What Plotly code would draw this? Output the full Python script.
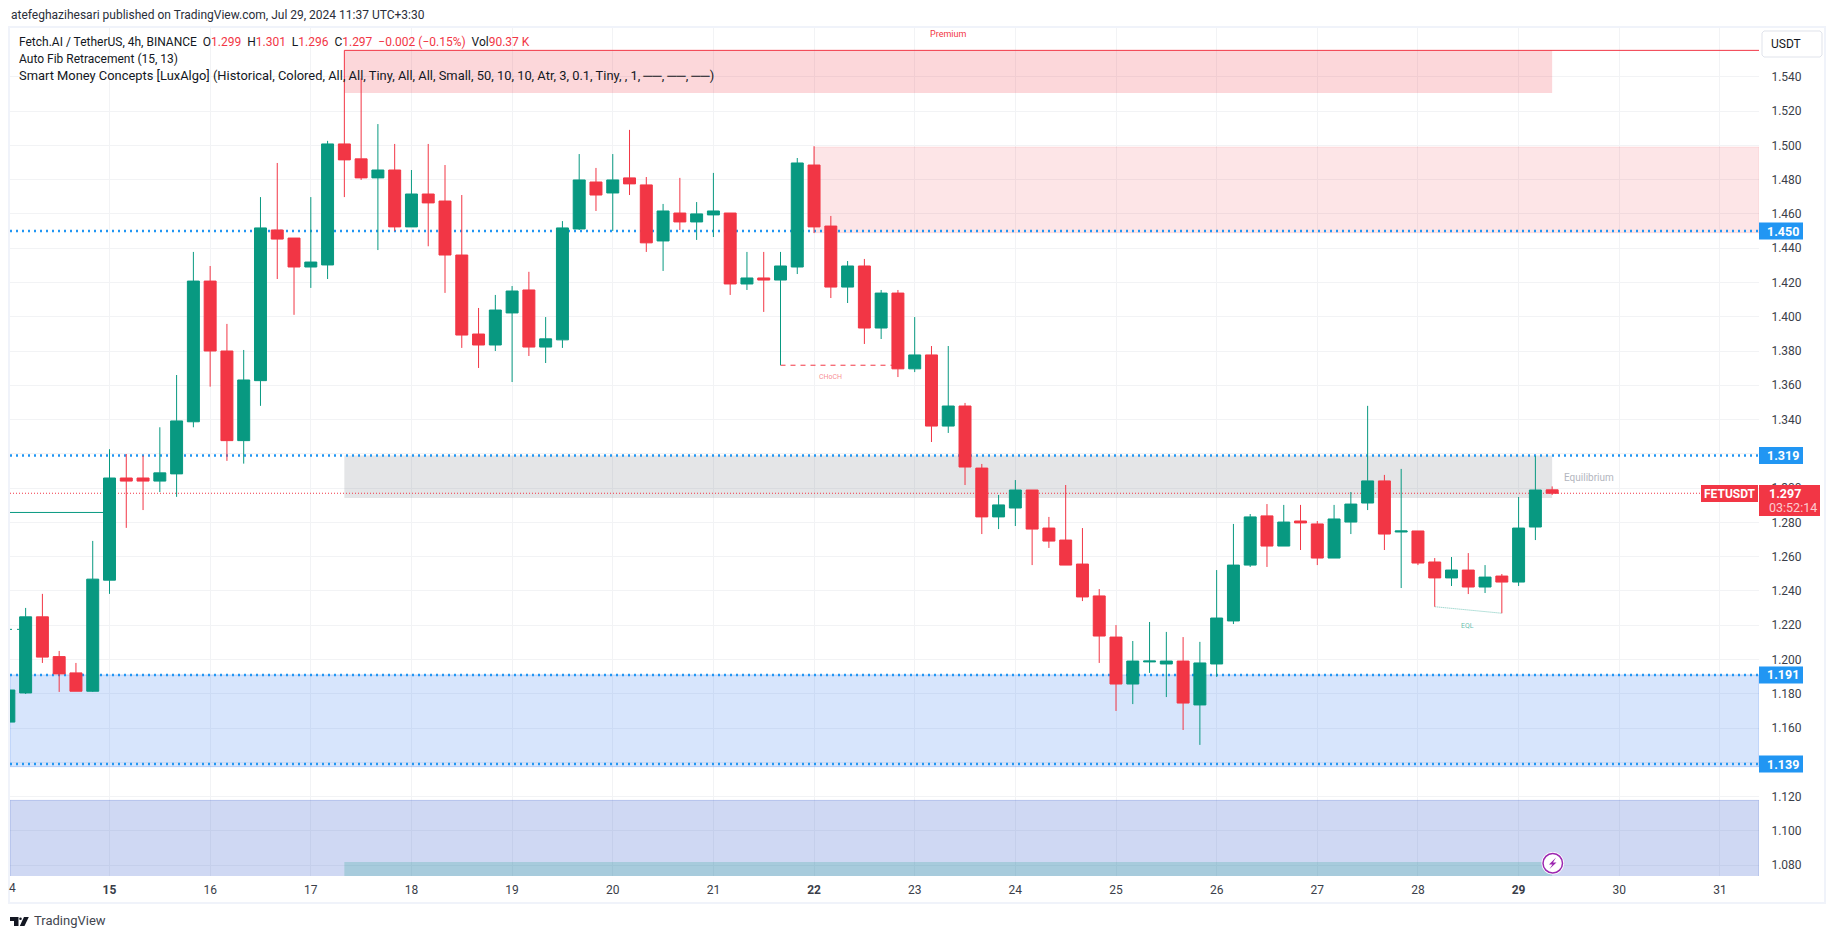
import plotly.graph_objects as go
import pandas as pd

W, H = 1835, 939
L, R, T, B = 10, 1759, 27, 876

# ---------- data ----------
bar_times = pd.date_range("2024-07-14 00:00", periods=93, freq="4h")
opens = [1.1635,1.1805,1.2249,1.2017,1.1922,1.1815,1.2463,1.3059,1.3059,1.3041,1.3083,1.3387,1.4208,1.38,1.3277,1.3627,
         1.4506,1.4459,1.429,1.4302,1.5008,1.4921,1.481,1.4856,1.4524,1.4716,1.4675,1.436,1.3899,1.3835,1.4022,1.4156,
         1.3823,1.3865,1.4512,1.4786,1.4722,1.481,1.4769,1.4442,1.4605,1.4553,1.4594,1.4605,1.4191,1.4226,1.4214,1.429,
         1.4885,1.4529,1.4173,1.4296,1.3934,1.4138,1.3696,1.3777,1.3362,1.3479,1.3117,1.2832,1.2884,1.2989,1.2767,1.2697,
         1.2557,1.2371,1.2131,1.1857,1.1986,1.1974,1.1991,1.1735,1.1974,1.2225,1.2551,1.2838,1.2662,1.2808,1.2791,1.2592,
         1.2802,1.2913,1.3042,1.2744,1.275,1.2569,1.2476,1.2522,1.2423,1.2487,1.2452,1.2773,1.299]
highs = [1.185,1.2301,1.2383,1.205,1.198,1.2692,1.3227,1.3199,1.3189,1.3355,1.366,1.4378,1.4296,1.3958,1.3806,1.4698,
         1.4897,1.4459,1.4698,1.5026,1.5554,1.5391,1.5124,1.5008,1.4856,1.5008,1.4885,1.471,1.4051,1.4127,1.4179,1.4262,
         1.3998,1.4558,1.4949,1.4868,1.4949,1.509,1.4815,1.4658,1.481,1.4669,1.4839,1.4605,1.4378,1.4378,1.4378,1.4926,
         1.4995,1.4588,1.4325,1.4337,1.4156,1.4156,1.3998,1.3829,1.3829,1.3497,1.3141,1.296,1.3047,1.2989,1.2832,1.3018,
         1.2767,1.2411,1.2201,1.2108,1.2219,1.2161,1.2131,1.2103,1.2522,1.2791,1.2849,1.2907,1.2902,1.2902,1.2808,1.2902,
         1.2977,1.348,1.3077,1.3112,1.275,1.2592,1.2598,1.2621,1.2551,1.2499,1.2948,1.3187,1.301]
lows = [1.16,1.1799,1.198,1.1811,1.1815,1.1811,1.2383,1.2768,1.2872,1.2977,1.2949,1.3355,1.3592,1.3159,1.3143,1.348,
        1.422,1.4011,1.4168,1.422,1.4698,1.4798,1.4389,1.45,1.4524,1.4411,1.4139,1.3818,1.3701,1.38,1.3619,1.3771,
        1.373,1.3818,1.4506,1.4617,1.45,1.471,1.4378,1.4267,1.4506,1.4448,1.4465,1.4127,1.4156,1.4028,1.3717,1.4249,
        1.4488,1.4109,1.408,1.3841,1.387,1.3648,1.3677,1.3269,1.3322,1.3018,1.2732,1.2761,1.2779,1.2551,1.2651,1.2551,
        1.2341,1.198,1.17,1.174,1.1922,1.1781,1.1589,1.1502,1.1899,1.2207,1.254,1.254,1.2662,1.2639,1.2551,1.2592,
        1.2732,1.2872,1.2639,1.2417,1.2551,1.2308,1.2429,1.2382,1.2388,1.227,1.2429,1.2697,1.296]
closes = [1.1822,1.2249,1.2014,1.1916,1.1815,1.2469,1.3059,1.3041,1.3041,1.3089,1.3392,1.4208,1.38,1.3277,1.3631,1.4518,
          1.4453,1.429,1.4319,1.5008,1.4915,1.481,1.4856,1.4524,1.4716,1.4664,1.436,1.3893,1.3835,1.4039,1.415,1.3823,
          1.3871,1.4518,1.4798,1.471,1.4798,1.4775,1.4431,1.4617,1.4553,1.46,1.4617,1.4191,1.4226,1.4214,1.4296,1.4897,
          1.4524,1.4173,1.4296,1.3934,1.4138,1.3696,1.3777,1.3362,1.3479,1.3123,1.2832,1.2902,1.2989,1.2761,1.2691,1.2551,
          1.2365,1.2137,1.1857,1.1991,1.1991,1.1991,1.1746,1.198,1.2242,1.2551,1.2832,1.2662,1.2802,1.2797,1.2592,1.282,
          1.2907,1.3042,1.2732,1.275,1.2563,1.2476,1.2522,1.2423,1.2481,1.2452,1.2767,1.2989,1.297]

level_labels = [1.450, 1.319, 1.191, 1.139]
last_price = 1.297
premium_top, premium_bottom = 1.5554, 1.5305
supply_top, supply_bottom = 1.499, 1.449
equilibrium_top, equilibrium_bottom = 1.319, 1.2942
demand_top, demand_bottom = 1.191, 1.1375
discount_top, discount_bottom = 1.1178, 1.06
strong_low_top, strong_low_bottom = 1.0819, 1.06
left_line_level = 1.2858
left_eqh_level = 1.2176
choch_level = 1.3717
eql_levels = [1.2308, 1.227]
price_ticks = [1.08 + 0.02 * i for i in range(24)]
hidden_ticks = ("1.320", "1.140")
day_ticks = pd.date_range("2024-07-15", "2024-07-31", freq="D")
day_labels = [f"<b>{d.day}</b>" if d.day in (15, 22, 29) else str(d.day) for d in day_ticks]

# ---------- styles ----------
UP, DOWN, BLUE = "#089981", "#F23645", "#2196F3"
FONT = "Roboto"
TXT = "#131722"
AXIS_TXT = "#3a3e49"

DAY_PX = 100.65
x_left = pd.Timestamp("2024-07-15") - pd.Timedelta(days=(109.5 - L) / DAY_PX)
x_right = pd.Timestamp("2024-07-15") + pd.Timedelta(days=(R - 109.5) / DAY_PX)
y_low = 1.28 - (B - 522.4) / 1714
y_high = 1.28 + (522.4 - T) / 1714

px = lambda x: (x - L) / (R - L)
py = lambda y: (B - y) / (B - T)

fig = go.Figure(go.Candlestick(
    x=bar_times, open=opens, high=highs, low=lows, close=closes,
    increasing=dict(line=dict(color=UP, width=1), fillcolor=UP),
    decreasing=dict(line=dict(color=DOWN, width=1), fillcolor=DOWN),
    whiskerwidth=0, hoverinfo="skip", showlegend=False,
))

shapes = []
def box(x0, x1, y0, y1, fill, line=None):
    shapes.append(dict(type="rect", xref="x", yref="y", x0=x0, x1=x1, y0=y0, y1=y1, fillcolor=fill,
                       line=dict(width=1 if line else 0, color=line or "rgba(0,0,0,0)"), layer="between"))
def seg(x0, x1, y0, y1, color, width=1, dash="solid"):
    shapes.append(dict(type="line", xref="x", yref="y", x0=x0, x1=x1, y0=y0, y1=y1,
                       line=dict(color=color, width=width, dash=dash), layer="between"))

ob_start, ob_end = bar_times[20], bar_times[92]
box(ob_start, ob_end, premium_top, premium_bottom, "rgba(242,54,69,0.2)")
box(bar_times[48], x_right, supply_top, supply_bottom, "rgba(242,54,69,0.13)", "rgba(242,54,69,0.1)")
box(ob_start, ob_end, equilibrium_top, equilibrium_bottom, "rgba(120,123,134,0.2)")
box(x_left, x_right, demand_top, demand_bottom, "rgba(41,115,240,0.19)", "rgba(41,115,240,0.25)")
box(x_left, x_right, discount_top, discount_bottom, "rgba(63,99,207,0.25)", "rgba(63,99,207,0.3)")
box(ob_start, ob_end, strong_low_top, strong_low_bottom, "rgba(8,153,129,0.2)")
seg(ob_start, x_right, premium_top, premium_top, DOWN, 1)
for lv in level_labels:
    seg(x_left, x_right, lv, lv, BLUE, 2.5, "2px,4px")
seg(x_left, x_right, last_price, last_price, DOWN, 1, "1px,2px")
seg(x_left, bar_times[6], left_line_level, left_line_level, UP, 1)
seg(x_left, bar_times[1], left_eqh_level, left_eqh_level, UP, 1, "2px,5px")
seg(bar_times[46], bar_times[53], choch_level, choch_level, DOWN, 1, "5px,5px")
seg(bar_times[85], bar_times[89], eql_levels[0], eql_levels[1], "rgba(8,153,129,0.55)", 1, "1px,1px")

anns = []
def text(x, y, s, size=12, color=TXT, xanchor="left", yanchor="middle", **kw):
    anns.append(dict(xref="paper", yref="paper", x=px(x), y=py(y), text=s, showarrow=False,
                     xanchor=xanchor, yanchor=yanchor, font=dict(family=kw.pop("family", FONT), size=size, color=color),
                     borderpad=0, **kw))
def chrome(x0, x1, y0, y1, fill=None, line=None, lw=1, path=None):
    d = dict(xref="paper", yref="paper", layer="above", line=dict(color=line or "rgba(0,0,0,0)", width=lw if line else 0))
    if fill: d["fillcolor"] = fill
    if path:
        d.update(type="path", path=path)
    else:
        d.update(type="rect", x0=px(x0), x1=px(x1), y0=py(y0), y1=py(y1))
    shapes.append(d)
def poly(pts):
    return "M" + " L".join(f"{px(a):.5f},{py(b):.5f}" for a, b in pts) + " Z"

# page frame
chrome(9, 1825, 27, 903, line="#F0F3FA", lw=2)

# header + legend
text(10, 14.7, "atefeghazihesari published on TradingView.com, Jul 29, 2024 11:37 UTC+3:30", 12, "#2a2e39")
red = lambda s: f'<span style="color:{DOWN}">{s}</span>'
text(17.5, 42, "Fetch.AI / TetherUS, 4h, BINANCE  O" + red("1.299") + "  H" + red("1.301") + "  L" + red("1.296")
     + "  C" + red("1.297") + "  " + red("−0.002 (−0.15%)") + "  Vol" + red("90.37 K"), 12)
text(17.5, 59, "Auto Fib Retracement (15, 13)", 12)
text(17.5, 76, "Smart Money Concepts [LuxAlgo] (Historical, Colored, All, All, Tiny, All, All, Small, 50, 10, 10, Atr, 3, 0.1, Tiny, , 1, ──, ──, ──)", 12.9)

# chart labels
text(948, 34, "Premium", 9, DOWN, "center")
text(1589, 477.6, "Equilibrium", 10, "#B2B5BE", "center")
text(830, 377, "CHoCH", 7, "rgba(242,54,69,0.6)", "center")
text(1467.6, 625.7, "EQL", 7, "rgba(8,153,129,0.65)", "center")
text(12, 888, "4", 12, AXIS_TXT, "center")

# USDT button
chrome(0, 0, 0, 0, "#FFFFFF", "#E0E3EB", 1, path=poly([(1764, 31), (1820, 31), (1822, 33), (1822, 55), (1820, 57), (1764, 57), (1762, 55), (1762, 33)]))
text(1786, 44, "USDT", 12, TXT, "center")

# blue level tags
for lv in level_labels:
    yc = 522.4 + (1.28 - lv) * 1714
    chrome(1759, 1803, yc - 8.5, yc + 8.5, BLUE)
    text(1783, yc, f"<b>{lv:.3f}</b>", 12.5, "#FFFFFF", "center")

# last price tags
chrome(1701, 1758, 485, 502, DOWN)
text(1729.5, 493.5, "<b>FETUSDT</b>", 12, "#FFFFFF", "center")
chrome(1759, 1820, 485, 516, DOWN)
text(1768, 493.5, "<b>1.297</b>", 12.5, "#FFFFFF")
text(1768, 507.5, "03:52:14", 12.5, "rgba(255,255,255,0.75)")

# lightning badge
shapes.append(dict(type="circle", xref="paper", yref="paper", layer="above", x0=px(1541.5), x1=px(1564), y0=py(874.5), y1=py(852),
                   fillcolor="#FFFFFF", line=dict(width=0)))
shapes.append(dict(type="circle", xref="paper", yref="paper", layer="above", x0=px(1543), x1=px(1562.5), y0=py(873), y1=py(853.5),
                   fillcolor="#FFFFFF", line=dict(width=1.5, color="#9C27B0")))
chrome(0, 0, 0, 0, "#9C27B0", path=poly([(1556, 857.5), (1549, 864.5), (1552.5, 864.5), (1549.5, 869), (1556.5, 862.5), (1553, 862.5)]))

# TradingView logo
chrome(0, 0, 0, 0, "#131722", path=poly([(10, 917), (18.5, 917), (18.5, 926), (14, 926), (14, 921), (10, 921)]))
shapes.append(dict(type="circle", xref="paper", yref="paper", layer="above", x0=px(19.2), x1=px(21.8), y0=py(920), y1=py(917.4),
                   fillcolor="#131722", line=dict(width=0)))
chrome(0, 0, 0, 0, "#131722", path=poly([(24, 917), (28.8, 917), (24.5, 926), (19.8, 926)]))
text(33, 921, "TradingView", 13, "#42464f")

fig.update_layout(
    width=W, height=H, autosize=False,
    margin=dict(l=L, r=W - R, t=T, b=H - B, pad=0),
    paper_bgcolor="#FFFFFF", plot_bgcolor="#FFFFFF",
    showlegend=False, boxgap=0.155, boxgroupgap=0.155,
    shapes=shapes, annotations=anns, hovermode=False,
    xaxis=dict(type="date", range=[x_left, x_right], rangeslider=dict(visible=False),
               tickmode="array", tickvals=list(day_ticks), ticktext=day_labels,
               showgrid=True, gridcolor="#F2F3F5", gridwidth=1, zeroline=False, showline=False,
               ticks="outside", ticklen=3, tickcolor="rgba(0,0,0,0)",
               tickfont=dict(family=FONT, size=12, color=AXIS_TXT), fixedrange=True),
    yaxis=dict(range=[y_low, y_high], side="right", tickmode="array", tickvals=price_ticks,
               ticktext=["" if f"{v:.3f}" in hidden_ticks else f"{v:.3f}" for v in price_ticks],
               showgrid=True, gridcolor="#F2F3F5", gridwidth=1, zeroline=False, showline=False,
               ticks="outside", ticklen=9, tickcolor="rgba(0,0,0,0)",
               tickfont=dict(family=FONT, size=12, color=AXIS_TXT), fixedrange=True),
)

fig.write_html("out.html", config=dict(displayModeBar=False),
               post_script="document.body.style.margin='0';")
